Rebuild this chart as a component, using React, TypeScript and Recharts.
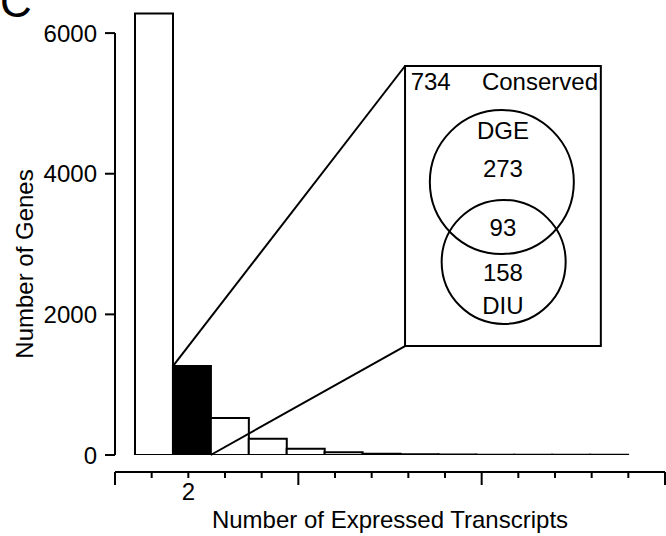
import React from 'react'
import {
  Bar,
  BarChart,
  Cell,
  ReferenceArea,
  ReferenceDot,
  ReferenceLine,
  XAxis,
  YAxis,
} from 'recharts'

// Histogram of expressed transcripts per gene, with the n=2 bin zoomed into a Venn inset.

const FONT = '"Liberation Sans", Arial, Helvetica, sans-serif'

const transcriptCounts = [1, 2, 3, 4, 5, 6, 7, 8, 9, 10, 11, 12, 13]
const geneCounts = [6280, 1265, 527, 230, 90, 38, 18, 10, 7, 5, 4, 3, 2]
const highlightIndex = 1

const yTicks = [0, 2000, 4000, 6000]
const xTicks = [0, 1, 2, 3, 4, 5, 6, 7, 8, 9, 10, 11, 12, 13, 14, 15]
const xLabelled = [2]

// inset (in bottom-axis / gene-count units)
const insetBox = { x1: 7.91, x2: 13.25, y1: 1550, y2: 5532 }
const zoomLines = [
  [{ x: 1.58, y: 1265 }, { x: 7.91, y: 5532 }],
  [{ x: 2.61, y: 0 }, { x: 7.91, y: 1550 }],
]
const vennCircles = [
  { x: 10.55, y: 3882, r: 72 },
  { x: 10.6, y: 2745, r: 62 },
]
const vennTexts = [
  { label: '734', x: 8.61, y: 5311 },
  { label: 'Conserved', x: 11.59, y: 5311 },
  { label: 'DGE', x: 10.58, y: 4622 },
  { label: '273', x: 10.58, y: 4081 },
  { label: '93', x: 10.58, y: 3242 },
  { label: '158', x: 10.58, y: 2602 },
  { label: 'DIU', x: 10.58, y: 2133 },
]

const data = transcriptCounts.map((n, i) => ({ n, genes: geneCounts[i] }))

function XTick({ x, y, payload }: any) {
  const major = payload.value % 5 === 0
  return (
    <g>
      <line x1={x} x2={x} y1={y} y2={y + (major ? 13 : 6)} stroke="#000" strokeWidth={2} />
      {xLabelled.includes(payload.value) && (
        <text x={x} y={y + 28} textAnchor="middle" fontSize={24} fontFamily={FONT} fill="#000">
          {payload.value}
        </text>
      )}
    </g>
  )
}

function YTitle({ viewBox }: any) {
  const cx = viewBox.x + 33
  const cy = viewBox.y + viewBox.height / 2 + 30.5
  return (
    <g>
      <text x={0} y={17} fontSize={44} fontFamily={FONT} fill="#000">
        C
      </text>
      <text
        x={cx}
        y={cy}
        transform={`rotate(-90, ${cx}, ${cy})`}
        textAnchor="middle"
        fontSize={24}
        fontFamily={FONT}
        fill="#000"
      >
        Number of Genes
      </text>
    </g>
  )
}

function XTitle({ viewBox }: any) {
  return (
    <text
      x={viewBox.x + viewBox.width / 2}
      y={viewBox.y + 56}
      textAnchor="middle"
      fontSize={24}
      fontFamily={FONT}
      fill="#000"
    >
      Number of Expressed Transcripts
    </text>
  )
}

export default function App() {
  return (
    <div style={{ position: 'absolute', left: 0, top: 0, width: 666, height: 536, background: '#fff' }}>
      <BarChart
        width={666}
        height={536}
        data={data}
        margin={{ top: 12, right: 1, bottom: 0, left: 0 }}
        barCategoryGap={0}
      >
        <XAxis
          xAxisId="bars"
          dataKey="n"
          padding={{ left: 20, right: 37 }}
          height={17}
          tick={false}
          tickLine={false}
          axisLine={false}
        />
        <XAxis
          xAxisId="num"
          dataKey="n"
          type="number"
          domain={[0, 15]}
          allowDataOverflow
          ticks={xTicks}
          interval={0}
          height={64}
          tickSize={0}
          tickMargin={0}
          tick={<XTick />}
          axisLine={{ stroke: '#000', strokeWidth: 2 }}
          tickLine={false}
          label={<XTitle />}
        />
        <YAxis
          width={115}
          domain={[0, 6300]}
          allowDataOverflow
          ticks={yTicks}
          interval={0}
          axisLine={false}
          tickLine={{ stroke: '#000', strokeWidth: 2 }}
          tickSize={10}
          tickMargin={8}
          tick={{ fontSize: 24, fill: '#000', fontFamily: FONT }}
          label={<YTitle />}
        />
        <ReferenceLine
          xAxisId="num"
          segment={[{ x: 0, y: 0 }, { x: 0, y: 6000 }]}
          stroke="#000"
          strokeWidth={2}
          ifOverflow="visible"
        />
        <Bar
          dataKey="genes"
          xAxisId="bars"
          fill="#fff"
          stroke="#000"
          strokeWidth={2}
          isAnimationActive={false}
        >
          {data.map((d, i) => (
            <Cell key={d.n} fill={i === highlightIndex ? '#000' : '#fff'} />
          ))}
        </Bar>
        {zoomLines.map((seg, i) => (
          <ReferenceLine
            key={i}
            xAxisId="num"
            segment={seg}
            stroke="#000"
            strokeWidth={2}
            ifOverflow="visible"
          />
        ))}
        <ReferenceArea
          xAxisId="num"
          x1={insetBox.x1}
          x2={insetBox.x2}
          y1={insetBox.y1}
          y2={insetBox.y2}
          fill="#fff"
          fillOpacity={1}
          stroke="#000"
          strokeWidth={2}
          ifOverflow="visible"
        />
        {vennCircles.map((c, i) => (
          <ReferenceDot
            key={i}
            xAxisId="num"
            x={c.x}
            y={c.y}
            r={c.r}
            fill="none"
            stroke="#000"
            strokeWidth={2}
            ifOverflow="visible"
          />
        ))}
        {vennTexts.map((t) => (
          <ReferenceDot
            key={t.label}
            xAxisId="num"
            x={t.x}
            y={t.y}
            r={0}
            fill="none"
            stroke="none"
            ifOverflow="visible"
            label={{ value: t.label, position: 'center', fontSize: 24, fill: '#000', fontFamily: FONT }}
          />
        ))}
      </BarChart>
    </div>
  )
}
